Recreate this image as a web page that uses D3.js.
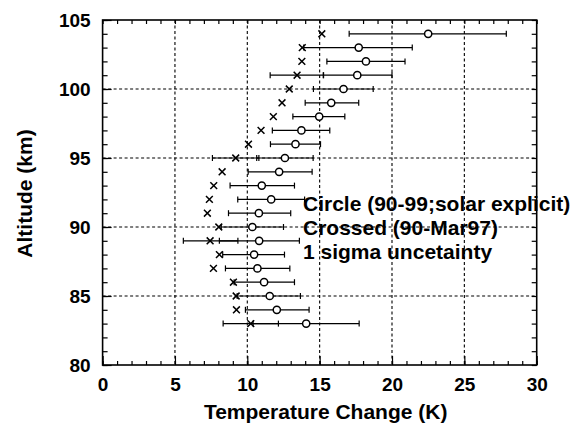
<!DOCTYPE html>
<html>
<head>
<meta charset="utf-8">
<script src="https://cdn.jsdelivr.net/npm/d3@7"></script>
<style>
  html, body { margin: 0; padding: 0; background: #fff; }
  svg { display: block; font-family: "Liberation Sans", Arial, sans-serif; }
  .tick text { font-weight: bold; font-size: 19px; fill: #000; }
</style>
</head>
<body>
<div id="chart"></div>
<script>
// altitude levels (km)
const altitudes = [104, 103, 102, 101, 100, 99, 98, 97, 96, 95, 94, 93, 92, 91, 90, 89, 88, 87, 86, 85, 84, 83];

// circles: 90-99, solar explicit, with 1 sigma range
const circleVals = [22.5, 17.7, 18.2, 17.6, 16.65, 15.8, 14.97, 13.74, 13.33, 12.6, 12.2, 11.0, 11.65, 10.8, 10.35, 10.82, 10.47, 10.7, 11.16, 11.55, 12.04, 14.07];
const circleLow  = [17.04, 13.9, 15.5, 15.25, 14.57, 14.0, 13.15, 11.73, 11.6, 10.65, 10.06, 8.81, 9.34, 8.7, 8.2, 8.07, 8.3, 8.49, 9.09, 9.3, 9.87, 10.4];
const circleHigh = [27.9, 21.4, 20.9, 20.0, 18.7, 17.7, 16.74, 15.7, 15.06, 14.55, 14.48, 13.26, 13.96, 13.0, 12.5, 13.6, 12.57, 12.94, 13.26, 13.67, 14.27, 17.73];

// crosses: 90-Mar97
const crossVals = [15.15, 13.8, 13.77, 13.44, 12.9, 12.4, 11.8, 10.95, 10.08, 9.2, 8.26, 7.68, 7.38, 7.24, 8.03, 7.43, 8.07, 7.66, 9.04, 9.23, 9.25, 10.24];
// crosses that carry their own error bar
const crossErrAlt  = [101, 95, 89, 83];
const crossErrLow  = [11.58, 7.59, 5.58, 8.33];
const crossErrHigh = [15.27, 10.8, 9.35, 12.15];

const xTicks = [0, 5, 10, 15, 20, 25, 30];
const yTicks = [80, 85, 90, 95, 100, 105];
const legendLines = ["Circle (90-99;solar explicit)", "Crossed (90-Mar97)", "1 sigma uncetainty"];

const width = 579, height = 425;
const margin = { top: 20, right: 42.3, bottom: 60, left: 102.6 };
const usable = {
  left: margin.left, right: width - margin.right,
  top: margin.top, bottom: height - margin.bottom
};

const xScale = d3.scaleLinear().domain([0, 30]).range([usable.left, usable.right]);
const yScale = d3.scaleLinear().domain([80, 105]).range([usable.bottom, usable.top]);

const svg = d3.select("#chart").append("svg")
  .attr("width", width).attr("height", height);

// dotted gridlines at the major values
svg.append("g").selectAll("line")
  .data(xTicks.slice(1, -1))
  .join("line")
  .attr("x1", d => xScale(d)).attr("x2", d => xScale(d))
  .attr("y1", usable.top).attr("y2", usable.bottom)
  .attr("stroke", "#000").attr("stroke-width", 1.1).attr("stroke-dasharray", "3,2.5");

svg.append("g").selectAll("line")
  .data(yTicks.slice(1, -1))
  .join("line")
  .attr("y1", d => yScale(d)).attr("y2", d => yScale(d))
  .attr("x1", usable.left).attr("x2", usable.right)
  .attr("stroke", "#000").attr("stroke-width", 1.1).attr("stroke-dasharray", "3,2.5");

// inward ticks on all four sides
function addAxis(axis, transform) {
  const g = svg.append("g").attr("transform", transform).call(axis);
  g.select(".domain").remove();
  g.selectAll(".tick line").attr("stroke", "#000").attr("stroke-width", 1.2);
  return g;
}
const minorX = d3.range(0, 31), minorY = d3.range(80, 106);

addAxis(d3.axisBottom(xScale).tickValues(minorX).tickSize(-4).tickFormat(""), `translate(0,${usable.bottom})`);
addAxis(d3.axisTop(xScale).tickValues(minorX).tickSize(-4).tickFormat(""), `translate(0,${usable.top})`);
addAxis(d3.axisLeft(yScale).tickValues(minorY).tickSize(-5).tickFormat(""), `translate(${usable.left},0)`);
addAxis(d3.axisRight(yScale).tickValues(minorY).tickSize(-5).tickFormat(""), `translate(${usable.right},0)`);

addAxis(d3.axisBottom(xScale).tickValues(xTicks).tickSize(-9).tickPadding(13).tickFormat(d3.format("d")),
  `translate(0,${usable.bottom})`);
addAxis(d3.axisLeft(yScale).tickValues(yTicks).tickSize(-9).tickPadding(12).tickFormat(d3.format("d")),
  `translate(${usable.left},0)`);

// frame
svg.append("rect")
  .attr("x", usable.left).attr("y", usable.top)
  .attr("width", usable.right - usable.left).attr("height", usable.bottom - usable.top)
  .attr("fill", "none").attr("stroke", "#000").attr("stroke-width", 1.6);

// error bars
function errorBars(g, lows, highs, alts) {
  const rows = alts.map((a, i) => ({ a, lo: lows[i], hi: highs[i] }));
  g.selectAll("line.bar").data(rows).join("line").attr("class", "bar")
    .attr("x1", d => xScale(d.lo)).attr("x2", d => xScale(d.hi))
    .attr("y1", d => yScale(d.a)).attr("y2", d => yScale(d.a));
  g.selectAll("line.capl").data(rows).join("line").attr("class", "capl")
    .attr("x1", d => xScale(d.lo)).attr("x2", d => xScale(d.lo))
    .attr("y1", d => yScale(d.a) - 3).attr("y2", d => yScale(d.a) + 3);
  g.selectAll("line.caph").data(rows).join("line").attr("class", "caph")
    .attr("x1", d => xScale(d.hi)).attr("x2", d => xScale(d.hi))
    .attr("y1", d => yScale(d.a) - 3).attr("y2", d => yScale(d.a) + 3);
}
const errG = svg.append("g").attr("stroke", "#000").attr("stroke-width", 1.2);
errorBars(errG.append("g"), circleLow, circleHigh, altitudes);
errorBars(errG.append("g"), crossErrLow, crossErrHigh, crossErrAlt);

// circles
svg.append("g").selectAll("circle")
  .data(altitudes.map((a, i) => ({ a, v: circleVals[i] })))
  .join("circle")
  .attr("cx", d => xScale(d.v)).attr("cy", d => yScale(d.a)).attr("r", 3.6)
  .attr("fill", "#fff").attr("stroke", "#000").attr("stroke-width", 1.5);

// crosses
const s = 3.4;
svg.append("g").attr("stroke", "#000").attr("stroke-width", 1.5)
  .selectAll("path")
  .data(altitudes.map((a, i) => ({ a, v: crossVals[i] })))
  .join("path")
  .attr("d", d => {
    const x = xScale(d.v), y = yScale(d.a);
    return `M${x - s},${y - s}L${x + s},${y + s}M${x - s},${y + s}L${x + s},${y - s}`;
  });

// legend text
svg.append("g").selectAll("text")
  .data(legendLines)
  .join("text")
  .attr("x", 303).attr("y", (d, i) => 211 + i * 24)
  .attr("font-size", 21).attr("font-weight", "bold")
  .text(d => d);

// axis titles
svg.append("text")
  .attr("x", (usable.left + usable.right) / 2 + 6).attr("y", 419)
  .attr("text-anchor", "middle").attr("font-size", 21).attr("font-weight", "bold")
  .text("Temperature Change (K)");

svg.append("text")
  .attr("transform", `translate(32,${yScale(92.5) + 1}) rotate(-90)`)
  .attr("text-anchor", "middle").attr("font-size", 21).attr("font-weight", "bold")
  .text("Altitude (km)");
</script>
</body>
</html>
